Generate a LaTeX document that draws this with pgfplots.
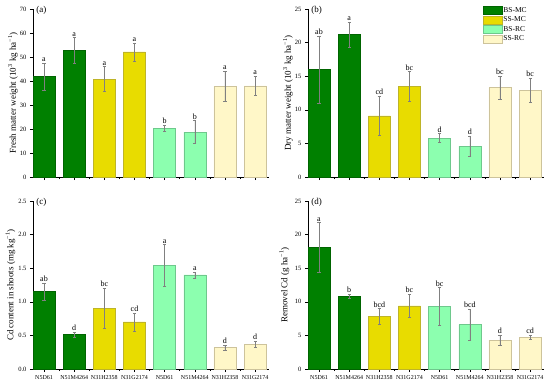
\documentclass[border=0pt]{standalone}
\usepackage{fontspec}
\setmainfont{Liberation Serif}
\usepackage{pgfplots}
\pgfplotsset{compat=1.18}
\definecolor{cBSMC}{RGB}{0,128,0}
\definecolor{eBSMC}{RGB}{0,100,0}
\definecolor{cSSMC}{RGB}{232,220,0}
\definecolor{eSSMC}{RGB}{190,180,40}
\definecolor{cBSRC}{RGB}{140,255,175}
\definecolor{eBSRC}{RGB}{110,200,140}
\definecolor{cSSRC}{RGB}{255,247,200}
\definecolor{eSSRC}{RGB}{205,195,155}
\pgfplotsset{
  panel/.style={
    scale only axis, width=236pt, height=168pt,
    axis lines*=left, ybar, bar width=22pt,
    xmin=-0.365, xmax=7.46, ymin=0,
    xtick={0,...,7}, minor xtick={0.5,1.5,...,6.5},
    tick align=outside, major tick length=3pt, minor tick length=2pt,
    tick style={black, line width=0.5pt},
    axis line style={line width=0.6pt},
    ticklabel style={font=\fontsize{6.5}{7}\selectfont},
    xticklabel style={font=\fontsize{6}{7}\selectfont},
    /pgf/number format/assume math mode=true,
    ylabel style={font=\fontsize{9}{10}\selectfont, at={(axis description cs:-0.085,0.5)}, anchor=center},
    enlargelimits=false, clip=false,
  },
  eb/.style={bar shift=0pt, line width=0.5pt,
    error bars/y dir=both, error bars/y explicit,
    error bars/error bar style={gray, line width=0.4pt},
    error bars/error mark options={gray, mark size=1.6pt, rotate=90}},
  lett/.style={bar shift=0pt, draw=none, fill=none, forget plot,
    nodes near coords, point meta=explicit symbolic,
    nodes near coords style={anchor=south, font=\fontsize{8}{9}\selectfont, inner sep=1.2pt}},
}
\begin{document}
\begin{tikzpicture}
\path[use as bounding box] (0,0) rectangle (550pt,-384pt);
% (a)
\begin{axis}[panel, at={(33pt,-177pt)}, anchor=south west,
  ymax=70, ytick={0,10,...,70}, xticklabels={},
  ylabel={Fresh matter weight (10\textsuperscript{3} kg ha\textsuperscript{−1})}]
\addplot[eb, fill=cBSMC, draw=eBSMC] coordinates {(0,41.8) +- (0,5.7) (1,52.8) +- (0,5.3)};
\addplot[eb, fill=cSSMC, draw=eSSMC] coordinates {(2,40.8) +- (0,5.2) (3,52.1) +- (0,3.8)};
\addplot[eb, fill=cBSRC, draw=eBSRC] coordinates {(4,20.3) +- (0,1.2) (5,18.7) +- (0,4.8)};
\addplot[eb, fill=cSSRC, draw=eSSRC] coordinates {(6,37.8) +- (0,6.2) (7,38.0) +- (0,4.0)};
\addplot[lett] table[row sep=\\, meta=l] {x y l\\ 0 47.5 a\\ 1 58.1 a\\ 2 46.0 a\\ 3 55.9 a\\ 4 21.5 b\\ 5 23.5 b\\ 6 44.0 a\\ 7 42.0 a\\};
\node[anchor=west, font=\fontsize{9}{10}\selectfont, inner sep=0pt] at (rel axis cs:0.013,0.99) {(a)};
\end{axis}
% (b)
\begin{axis}[panel, at={(308pt,-177pt)}, anchor=south west,
  ymax=25, ytick={0,5,...,25}, xticklabels={},
  ylabel={Dry matter weight (10\textsuperscript{3} kg ha\textsuperscript{−1})},
  legend style={at={(axis description cs:0.735,1.025)}, anchor=north west, draw=none, fill=none,
    font=\fontsize{7.5}{8}\selectfont, row sep=0.6pt, inner sep=1pt,
    nodes={inner sep=1.2pt}},
  legend cell align=left,
  legend image code/.code={\draw[#1, bar shift=0pt] (0pt,-4.2pt) rectangle (19pt,4.2pt);}]
\addplot[eb, fill=cBSMC, draw=eBSMC] coordinates {(0,16.0) +- (0,5.0) (1,21.2) +- (0,1.9)};
\addlegendentry{BS-MC}
\addplot[eb, fill=cSSMC, draw=eSSMC] coordinates {(2,9.1) +- (0,2.9) (3,13.5) +- (0,2.2)};
\addlegendentry{SS-MC}
\addplot[eb, fill=cBSRC, draw=eBSRC] coordinates {(4,5.8) +- (0,0.65) (5,4.6) +- (0,1.5)};
\addlegendentry{BS-RC}
\addplot[eb, fill=cSSRC, draw=eSSRC] coordinates {(6,13.3) +- (0,1.75) (7,12.9) +- (0,1.8)};
\addlegendentry{SS-RC}
\addplot[lett] table[row sep=\\, meta=l] {x y l\\ 0 21.0 ab\\ 1 23.1 a\\ 2 12.0 cd\\ 3 15.7 bc\\ 4 6.45 d\\ 5 6.1 d\\ 6 15.05 bc\\ 7 14.7 bc\\};
\node[anchor=west, font=\fontsize{9}{10}\selectfont, inner sep=0pt] at (rel axis cs:0.013,0.99) {(b)};
\end{axis}
% (c)
\begin{axis}[panel, at={(33pt,-369pt)}, anchor=south west,
  ymax=2.5, ytick={0,0.5,...,2.5},
  yticklabel style={/pgf/number format/.cd, fixed, precision=1, fixed zerofill},
  xticklabels={N5D61,N51M4264,N31H2358,N31G2174,N5D61,N51M4264,N31H2358,N31G2174},
  ylabel style={at={(axis description cs:-0.095,0.5)}},
  ylabel={Cd content in shoots (mg kg\textsuperscript{−1})}]
\addplot[eb, fill=cBSMC, draw=eBSMC] coordinates {(0,1.15) +- (0,0.13) (1,0.51) +- (0,0.04)};
\addplot[eb, fill=cSSMC, draw=eSSMC] coordinates {(2,0.90) +- (0,0.30) (3,0.70) +- (0,0.13)};
\addplot[eb, fill=cBSRC, draw=eBSRC] coordinates {(4,1.54) +- (0,0.31) (5,1.40) +- (0,0.045)};
\addplot[eb, fill=cSSRC, draw=eSSRC] coordinates {(6,0.32) +- (0,0.035) (7,0.37) +- (0,0.045)};
\addplot[lett] table[row sep=\\, meta=l] {x y l\\ 0 1.28 ab\\ 1 0.55 d\\ 2 1.20 bc\\ 3 0.83 cd\\ 4 1.85 a\\ 5 1.445 a\\ 6 0.355 d\\ 7 0.415 d\\};
\node[anchor=west, font=\fontsize{9}{10}\selectfont, inner sep=0pt] at (rel axis cs:0.013,0.99) {(c)};
\end{axis}
% (d)
\begin{axis}[panel, at={(308pt,-369pt)}, anchor=south west,
  ymax=25, ytick={0,5,...,25},
  xticklabels={N5D61,N51M4264,N31H2358,N31G2174,N5D61,N51M4264,N31H2358,N31G2174},
  ylabel style={at={(axis description cs:-0.1,0.5)}},
  ylabel={Removel Cd (g ha\textsuperscript{−1})}]
\addplot[eb, fill=cBSMC, draw=eBSMC] coordinates {(0,18.1) +- (0,3.7) (1,10.8) +- (0,0.3)};
\addplot[eb, fill=cSSMC, draw=eSSMC] coordinates {(2,7.8) +- (0,1.2) (3,9.4) +- (0,1.75)};
\addplot[eb, fill=cBSRC, draw=eBSRC] coordinates {(4,9.3) +- (0,2.8) (5,6.6) +- (0,2.3)};
\addplot[eb, fill=cSSRC, draw=eSSRC] coordinates {(6,4.3) +- (0,0.7) (7,4.7) +- (0,0.3)};
\addplot[lett] table[row sep=\\, meta=l] {x y l\\ 0 21.8 a\\ 1 11.1 b\\ 2 9.0 bcd\\ 3 11.15 bc\\ 4 12.1 bc\\ 5 8.9 bcd\\ 6 5.0 d\\ 7 5.0 cd\\};
\node[anchor=west, font=\fontsize{9}{10}\selectfont, inner sep=0pt] at (rel axis cs:0.013,0.99) {(d)};
\end{axis}
\end{tikzpicture}
\end{document}
